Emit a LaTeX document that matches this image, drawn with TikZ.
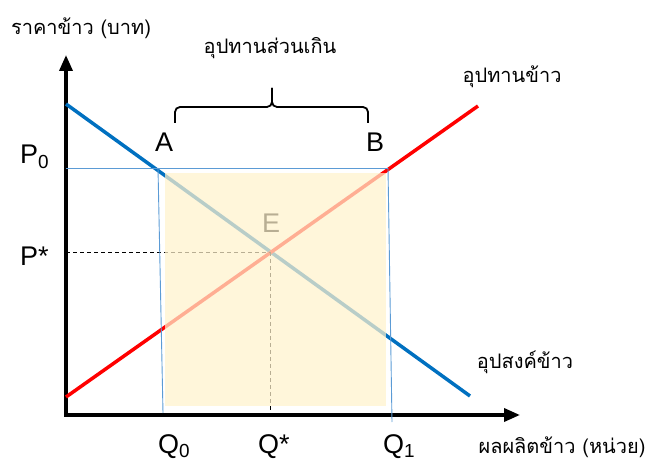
\documentclass[tikz,border=0pt]{standalone}
\usepackage{fontspec}
\setmainfont{Liberation Sans}
\newfontfamily\thaifont[Script=Thai]{Loma}
\usetikzlibrary{arrows.meta}
\definecolor{demandblue}{HTML}{0070C0}
\definecolor{supplyred}{HTML}{FF0000}
\definecolor{guideblue}{HTML}{5B9BD5}
\definecolor{surplus}{HTML}{FFF2CC}
\tikzset{
  axis/.style     = {draw=black, line width=3.5pt, line cap=rect, -{Triangle[length=16pt,width=13pt]}},
  curve/.style    = {line width=3.5pt},
  guide/.style    = {draw=guideblue, line width=0.9pt},
  eqline/.style   = {draw=black, dash pattern=on 4pt off 3pt, line width=0.8pt},
  shade/.style    = {fill=surplus, draw=none, fill opacity=0.72},
  lbl/.style      = {font=\fontsize{27}{32}\selectfont, inner sep=0pt, anchor=base west},
  thai/.style     = {font=\thaifont\fontsize{20}{24}\selectfont, inner sep=0pt},
  bracel/.style   = {draw=black, line width=1.8pt, rounded corners=5pt},
}

\begin{document}
\begin{tikzpicture}[x=1pt,y=1pt]
  \useasboundingbox (0,0) rectangle (651,464);

  % ----- axes -----
  \coordinate (O) at (66,49);
  \coordinate (ytop) at (66,409);
  \coordinate (xend) at (520,49);
  \draw[axis] (O) -- (ytop);
  \draw[axis] (O) -- (xend);
  \node[thai] (ylab) at (81,436) {ราคาข้าว (บาท)};
  \node[thai] (xlab) at (562,17) {ผลผลิตข้าว (หน่วย)};

  % ----- demand and supply -----
  \coordinate (d0) at (66,360);
  \coordinate (d1) at (470,68);
  \coordinate (s0) at (66,67);
  \coordinate (s1) at (478,358);
  \draw[curve, demandblue] (d0) -- (d1);
  \draw[curve, supplyred] (s0) -- (s1);
  \node[thai] (slab) at (512,387) {อุปทานข้าว};
  \node[thai] (dlab) at (525,102) {อุปสงค์ข้าว};

  % ----- equilibrium -----
  \coordinate (E) at (270,212);
  \coordinate (Pst) at (66,212);
  \coordinate (Qst) at (270,49);
  \draw[eqline] (Pst) -- (E);
  \draw[eqline] (E) -- (Qst);
  \node[lbl] (Elab) at (262,231) {E};

  % ----- price floor P0 -----
  \coordinate (P0) at (66,296);
  \coordinate (A) at (158,296);
  \coordinate (B) at (388,296);
  \coordinate (Q0) at (163,51);
  \coordinate (Q1) at (392,42);
  \draw[guide] (P0) -- (B);
  \draw[guide] (A) -- (Q0);
  \draw[guide] (B) -- (Q1);

  % ----- surplus area -----
  \fill[shade] (165,58) rectangle (386,291);

  % ----- labels -----
  \node[lbl] (P0lab) at (20,300) {P\textsubscript{0}};
  \node[lbl] (Pstlab) at (20,198) {P*};
  \node[lbl] (Q0lab) at (158,11) {Q\textsubscript{0}};
  \node[lbl] (Qstlab) at (258,11) {Q*};
  \node[lbl] (Q1lab) at (383,11) {Q\textsubscript{1}};
  \node[lbl] (Alab) at (155,312) {A};
  \node[lbl] (Blab) at (366,312) {B};

  % ----- excess supply -----
  \coordinate (brL) at (175,341);
  \coordinate (brR) at (368,341);
  \coordinate (brM) at (272,357);
  \coordinate (brT) at (272,376);
  \draw[bracel] (brL) |- (brM) -- (brT);
  \draw[bracel] (brR) |- (brM) -- (brT);
  \node[thai] (exlab) at (270,416) {อุปทานส่วนเกิน};
\end{tikzpicture}
\end{document}
